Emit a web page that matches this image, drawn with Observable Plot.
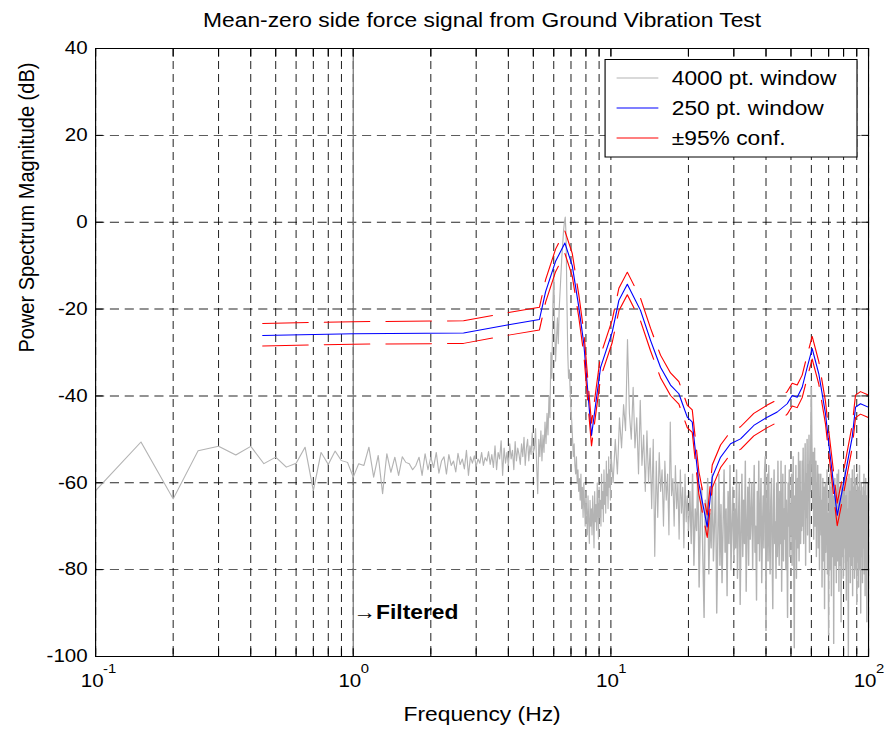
<!DOCTYPE html>
<html>
<head>
<meta charset="utf-8">
<script src="https://cdn.jsdelivr.net/npm/d3@7"></script>
<script src="https://cdn.jsdelivr.net/npm/@observablehq/plot@0.6"></script>
<style>
html, body { margin: 0; padding: 0; background: #fff; }
#chart { width: 890px; height: 729px; overflow: hidden; position: relative; }
#chart svg { transform: scaleX(1.141); transform-origin: 0 0; display: block; max-width: none !important; }
</style>
</head>
<body>
<div id="chart"></div>
<script>
// ---------- texts ----------
const title = "Mean-zero side force signal from Ground Vibration Test";
const xLabel = "Frequency (Hz)";
const yLabel = "Power Spectrum Magnitude (dB)";
const legendLabels = ["4000 pt. window", "250 pt. window", "\u00B195% conf."];
const annotationText = "\u2192Filtered";
const annotationFreq = 1;
const annotationDb = -90;
const filterFreq = 1;

// ---------- ticks ----------
const xTickValues = [0.1, 1, 10, 100];
const xTickExponents = ["-1", "0", "1", "2"];
const xGridValues = [0.1,0.2,0.3,0.4,0.5,0.6,0.7,0.8,0.9,1,2,3,4,5,6,7,8,9,10,20,30,40,50,60,70,80,90,100];
const yTickValues = [-100, -80, -60, -40, -20, 0, 20, 40];

// ---------- 4000 pt. window (gray), regular frequency grid segments ----------
const grayLowStart = 0.10, grayLowStep = 0.05;   // 0.10 .. 5.00 Hz
const grayLowDb = [-61.8,-50.6,-63.7,-52.6,-51.6,-53.6,-51.6,-55.6,-54.1,-56.4,
 -55.5,-51.8,-61.8,-53,-55.8,-52.7,-54.9,-55.3,-58.7,-55.6,
 -56,-51.8,-58.7,-53.7,-62.5,-53.3,
 -57.6,-54.1,-58.3,-54,-55.3,-55.6,-57,-56,-54.1,-58.3,-53.3,-57,-54.1,
 -56.5,-53,-57.8,-55,-54,-58,-53.5,-56,-55,-57.5,-53.2,-55.8,-54.5,-56.8,-52.5,-58.3,-54,-55.5,-53.8,-56.2,
 -54.5,-55.5,-53,-56,-54.2,-55,-52.8,-55.8,-53.5,-56.5,-51.5,-57,-53,-54.5,-50.3,-58.3,-52,-55.5,-53,-56,
 -51,-54.5,-52.5,-57,-50.5,-55,-52,-53.5,-55.8,-51,-54,-49.5,-56,-52,-50,-55,-51.5,-53.5,-48.5,-53];
const grayMidStart = 5.05, grayMidStep = 0.05;   // 5.05 .. 10.00 Hz
const grayMidDb = [-52,-47.5,-56,-62.5,-50,-54,-48,-55,-49,-53,
 -46,-51,-44,-49,-40,-45,-30,-36,-20,-11.5,
 -24,-32,-27,-22,-28,-20,-16,-12,-8,-5,
 -2,0,1.2,-3,-18,-30,-36,-34,-39,-43,
 -46,-50,-54,-51,-56,-58,-54,-60,-57,-62,
 -59,-64,-58,-66,-61,-68,-60,-65,-70,-62,
 -67,-72,-63,-69,-74,-64,-70,-66,-72,-63,
 -68,-75,-62,-69,-65,-71,-60,-67,-73,-61,
 -68,-64,-70,-58,-66,-62,-69,-57,-65,-60,
 -67,-55,-63,-58,-66,-54,-61,-57,-64,-53];
const grayHighAStart = 10.2, grayHighAStep = 0.2;   // 10.2 .. 20.0 Hz
const grayHighADb = [-60,-50,-58,-45,-52,-42,-48,-27,-44,-50,
 -38,-52,-45,-58,-41,-56,-49,-62,-48,-60,
 -52,-66,-50,-77,-55,-68,-53,-62,-57,-70,
 -55,-64,-58,-72,-46,-63,-59,-70,-56,-66,
 -60,-73,-57,-67,-61,-75,-58,-69,-63,-71];
const grayHighBStart = 20.25, grayHighBStep = 0.25; // 20.25 .. 100 Hz
const grayHighBDb = [
 -62,-74,-58,-79,-66,-71,-57,-84,-68,-61,-77,-91,-64,-72,-59,-81,-67,-75,-58,-78,
 -69,-60,-90,-73,-58,-79,-65,-83,-70,-57,-76,-66,-86,-62,-74,-56,-80,-70,-61,-78,
 -66,-75,-57,-82,-69,-60,-88,-72,-58,-77,-64,-74,-55,-85,-70,-61,-79,-59,-73,-68,
 -60,-80,-67,-56,-76,-70,-87,-62,-74,-55,-78,-68,-59,-83,-71,-63,-75,-57,-54,-94,
 -68,-58,-78,-56,-72,-81,-64,-59,-76,-89,-66,-57,-74,-69,-82,-60,-77,-55,-71,-79,
 -62,-74,-55,-85,-69,-58,-78,-66,-73,-56,-80,-64,-75,-91,-60,-70,-57,-77,-65,-72,
 -58,-79,-68,-54,-76,-98,-63,-73,-56,-82,-67,-59,-75,-53,-78,-66,-55,-74,-62,-71,
 -55,-70,-52,-74,-60,-66,-51,-79,-58,-68,-50,-72,-56,-64,-49,-76,-55,-62,-46,-38,
 -50,-60,-66,-53,-73,-58,-52,-70,-62,-55,-77,-60,-68,-56,-75,-63,-58,-80,-64,-70,
 -58,-72,-64,-84,-69,-59,-78,-70,-61,-89,-68,-60,-76,-65,-74,-57,-81,-67,-72,-95,
 -62,-75,-58,-80,-70,-61,-86,-68,-57,-77,-71,-63,-97,-66,-74,-59,-79,-69,-63,-83,
 -69,-58,-78,-66,-74,-57,-85,-68,-61,-79,-72,-63,-92,-69,-60,-77,-70,-62,-82,-73,
 -61,-75,-68,-57,-80,-71,-63,-87,-70,-59,-78,-66,-74,-100,-68,-58,-77,-71,-62,-83,
 -70,-59,-79,-65,-74,-57,-86,-69,-61,-77,-72,-56,-82,-67,-75,-59,-80,-70,-62,-88,
 -68,-58,-78,-71,-61,-84,-67,-74,-56,-80,-70,-62,-90,-69,-60,-77,-71,-63,-83,-68,
 -61,-75,-67,-58,-81,-71,-62,-86,-69,-59,-78,-70,-63,-92,-67,-73,-60,-80,-70,-74];

// ---------- 250 pt. window (blue) and 95% confidence bounds (red) ----------
const blueFreq = [0.445,1.0,2.68,4.01,5.28,5.58,6.10,6.63,7.08,7.51,7.85,8.41,9.12,10.12,10.74,11.58,13.03,14.25,15.58,17.04,18.36,19.79,20.69,21.95,23.66,24.74,26.65,29.14,31.86,35.87,40.45,44.22,48.35,50.55,52.86,55.27,57.81,60.44,64.12,68.08,70.12,75.6,79.05,82.66,86.43,89.03,93.08,100];
const blueDb = [-26.1,-25.7,-25.5,-23.6,-22.4,-16,-9,-4.8,-10,-19.6,-28,-49.1,-33.4,-25.3,-18,-14.3,-20.3,-27.2,-33.4,-37.5,-39.5,-44.9,-46,-60.2,-70.2,-58.7,-54.1,-51,-49.9,-46.8,-44.9,-43.7,-41.8,-39.9,-40.3,-38,-33.4,-29.1,-34.9,-44.1,-51,-67.5,-61.8,-55.6,-49.5,-42.6,-41.8,-42.6];
const confUpperDb = [-23.3,-22.9,-22.7,-20.8,-19.6,-13.2,-6.2,-2.0,-7.2,-16.8,-25.2,-46.3,-30.6,-22.5,-15.2,-11.5,-17.5,-24.4,-30.6,-34.7,-36.7,-42.1,-43.2,-57.4,-67.4,-55.9,-51.3,-48.2,-47.1,-44.0,-42.1,-40.9,-39.0,-37.1,-37.5,-35.2,-30.6,-26.3,-32.1,-41.3,-48.2,-64.7,-59.0,-52.8,-46.7,-39.8,-39.0,-39.8];
const confLowerDb = [-28.5,-28.1,-27.9,-26.0,-24.8,-18.4,-11.4,-7.2,-12.4,-22.0,-30.4,-51.5,-35.8,-27.7,-20.4,-16.7,-22.7,-29.6,-35.8,-39.9,-41.9,-47.3,-48.4,-62.6,-72.6,-61.1,-56.5,-53.4,-52.3,-49.2,-47.3,-46.1,-44.2,-42.3,-42.7,-40.4,-35.8,-31.5,-37.3,-46.5,-53.4,-69.9,-64.2,-58.0,-51.9,-45.0,-44.2,-45.0];

// ---------- colours ----------
const grayColor = "#b3b3b3", blueColor = "#0000ff", redColor = "#ff0000";

// ---------- build tables ----------
function segment(start, step, dbs) {
  return dbs.map((db, i) => ({f: +(start + i * step).toFixed(3), db}));
}
const grayLowPart = [
  ...segment(grayLowStart, grayLowStep, grayLowDb),
  ...segment(grayMidStart, grayMidStep, grayMidDb),
  ...segment(grayHighAStart, grayHighAStep, grayHighADb)
];
const grayHighPart = [grayLowPart[grayLowPart.length - 1], ...segment(grayHighBStart, grayHighBStep, grayHighBDb)];
const blue = blueFreq.map((f, i) => ({f, db: blueDb[i]}));
const upper = blueFreq.map((f, i) => ({f, db: confUpperDb[i]}));
const lower = blueFreq.map((f, i) => ({f, db: confLowerDb[i]}));
const xTicks = xTickValues.map((v, i) => ({v, e: xTickExponents[i]}));

const font = "'Liberation Sans', Arial, Helvetica, sans-serif";
const W = 780, H = 729;

const plot = Plot.plot({
  width: W, height: H,
  marginLeft: 83.3, marginRight: 19.3, marginTop: 48, marginBottom: 73,
  style: {fontFamily: font, fontSize: "18px", color: "#000", background: "#fff", overflow: "visible"},
  x: {type: "log", domain: [0.1, 100]},
  y: {domain: [-100, 40]},
  marks: [
    Plot.gridX(xGridValues, {stroke: "#000", strokeOpacity: 0.85, strokeWidth: 0.9, strokeDasharray: "8,5"}),
    Plot.gridY(yTickValues, {stroke: "#000", strokeOpacity: 0.85, strokeWidth: 0.9, strokeDasharray: "8,5"}),
    Plot.ruleX([filterFreq], {stroke: "#7a7a7a", strokeWidth: 1.1}),
    Plot.line(grayLowPart, {x: "f", y: "db", stroke: grayColor, strokeWidth: 1, clip: true}),
    Plot.line(grayHighPart, {x: "f", y: "db", stroke: grayColor, strokeWidth: 1.25, clip: true}),
    Plot.line(blue, {x: "f", y: "db", stroke: blueColor, strokeWidth: 1, clip: true}),
    Plot.line(upper, {x: "f", y: "db", stroke: redColor, strokeWidth: 1, strokeDasharray: "40,14", clip: true}),
    Plot.line(lower, {x: "f", y: "db", stroke: redColor, strokeWidth: 1, strokeDasharray: "40,14", clip: true}),
    Plot.frame({stroke: "#000", strokeWidth: 1}),
    Plot.axisX({anchor: "bottom", ticks: xGridValues, tickSize: -7.7, tickFormat: () => "", label: null}),
    Plot.axisX({anchor: "top", ticks: xGridValues, tickSize: -7.7, tickFormat: () => "", label: null}),
    Plot.axisY({anchor: "left", ticks: yTickValues, tickSize: -6.8, tickFormat: () => "", label: null}),
    Plot.axisY({anchor: "right", ticks: yTickValues, tickSize: -6.8, tickFormat: () => "", label: null}),
    Plot.axisY({anchor: "left", ticks: yTickValues, tickSize: 0, tickPadding: 7, tickFormat: d => String(d), label: null, fontSize: 18}),
    Plot.text(xTicks, {x: "v", frameAnchor: "bottom", lineAnchor: "middle", text: () => "10", dx: -3, dy: 25, fontSize: 18}),
    Plot.text(xTicks, {x: "v", frameAnchor: "bottom", lineAnchor: "middle", text: "e", dx: 6.5, dy: 12, textAnchor: "start", fontSize: 13}),
    Plot.text([xLabel], {frameAnchor: "bottom", lineAnchor: "middle", text: d => d, dy: 58, fontSize: 20}),
    Plot.text([yLabel], {frameAnchor: "left", lineAnchor: "middle", text: d => d, rotate: -90, dx: -60, fontSize: 20}),
    Plot.text([title], {frameAnchor: "top", lineAnchor: "middle", text: d => d, dy: -28, fontSize: 20}),
    Plot.text([annotationText], {x: () => annotationFreq, y: () => annotationDb, text: d => d, textAnchor: "start", lineAnchor: "middle", fontWeight: "bold", fontSize: 20})
  ]
});

// ---------- legend ----------
const svg = d3.select(plot);
const lg = svg.append("g").attr("font-family", font).attr("font-size", 20).attr("text-anchor", "start");
lg.append("rect").attr("x", 530.3).attr("y", 59.5).attr("width", 220.8).attr("height", 97.5)
  .style("fill", "#fff").style("stroke", "#000").style("stroke-width", "1px");
const legendColors = [grayColor, blueColor, redColor];
legendLabels.forEach((label, i) => {
  const y = 78 + 30 * i;
  lg.append("path").attr("d", `M540.4,${y}H577`)
    .style("fill", "none").style("stroke", legendColors[i]).style("stroke-width", "1.2px");
  lg.append("text").attr("x", 588.7).attr("y", y).attr("dy", "0.36em").style("text-anchor", "start").style("fill", "#000").text(label);
});

document.getElementById("chart").appendChild(plot);
</script>
</body>
</html>
